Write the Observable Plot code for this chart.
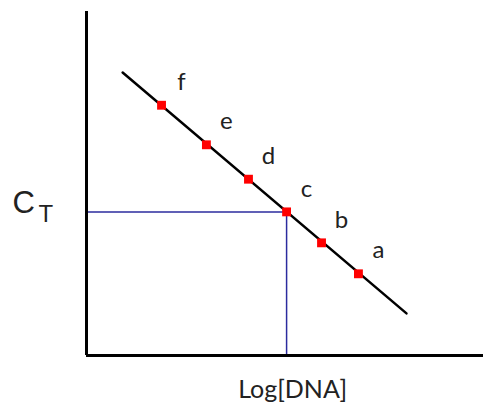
<!DOCTYPE html>
<html>
<head>
<meta charset="utf-8">
<script src="https://cdn.jsdelivr.net/npm/d3@7"></script>
<script src="https://cdn.jsdelivr.net/npm/@observablehq/plot@0.6"></script>
<style>
  html, body { margin: 0; padding: 0; background: #fff; }
  #chart { width: 483px; height: 405px; }
</style>
</head>
<body>
<div id="chart"></div>
<script>
// Standards (sample labels), log DNA (x) and Ct (y)
const labels = ["a", "b", "c", "d", "e", "f"];
const logDNA = [6.85, 5.92, 5.04, 4.08, 3.02, 1.89];
const ct = [9.5, 13.1, 16.7, 20.5, 24.5, 29.1];
// Fitted standard curve endpoints
const fitX = [0.91, 8.06];
const fitY = [32.9, 4.9];
// Unknown sample (point c)
const unknownIndex = 2;

const points = labels.map((l, i) => ({label: l, x: logDNA[i], y: ct[i]}));
const fit = fitX.map((x, i) => ({x, y: fitY[i]}));
const u = points[unknownIndex];

const font = "Lato, 'Open Sans', sans-serif";
const sans = "'Liberation Sans', Arial, sans-serif";

const chart = Plot.plot({
  width: 483,
  height: 405,
  marginLeft: 86,
  marginRight: 0,
  marginTop: 11,
  marginBottom: 50,
  x: {domain: [0, 10], axis: null},
  y: {domain: [0, 40], axis: null},
  style: {fontFamily: font, background: "#fff", overflow: "visible"},
  marks: [
    // blue read-off lines
    Plot.ruleY([u], {y: "y", x1: 0, x2: "x", stroke: "#2b2b9e", strokeWidth: 1.5}),
    Plot.ruleX([u], {x: "x", y1: 0, y2: "y", stroke: "#2b2b9e", strokeWidth: 1.5}),
    // standard curve
    Plot.line(fit, {x: "x", y: "y", stroke: "#000", strokeWidth: 2.5}),
    // standards
    Plot.dot(points, {x: "x", y: "y", symbol: "square", r: 5, fill: "#ff0000", stroke: "none"}),
    Plot.text(points, {x: "x", y: "y", text: "label", dx: 20, dy: -23, fontSize: 24, fill: "#222"}),
    // axes
    Plot.ruleX([0], {stroke: "#000", strokeWidth: 3}),
    Plot.ruleY([0], {stroke: "#000", strokeWidth: 3, x1: 0, x2: 10}),
    // axis titles
    Plot.text(["C"], {x: 0, y: u.y, dx: -74, dy: -9, textAnchor: "start", fontSize: 31, fontFamily: sans, fill: "#222"}),
    Plot.text(["T"], {x: 0, y: u.y, dx: -48, dy: 2, textAnchor: "start", fontSize: 24, fontFamily: sans, fill: "#222"}),
    Plot.text(["Log[DNA]"], {x: u.x, y: 0, dx: 6, dy: 34, fontSize: 25, fill: "#222"})
  ]
});

document.getElementById("chart").appendChild(chart);
</script>
</body>
</html>
